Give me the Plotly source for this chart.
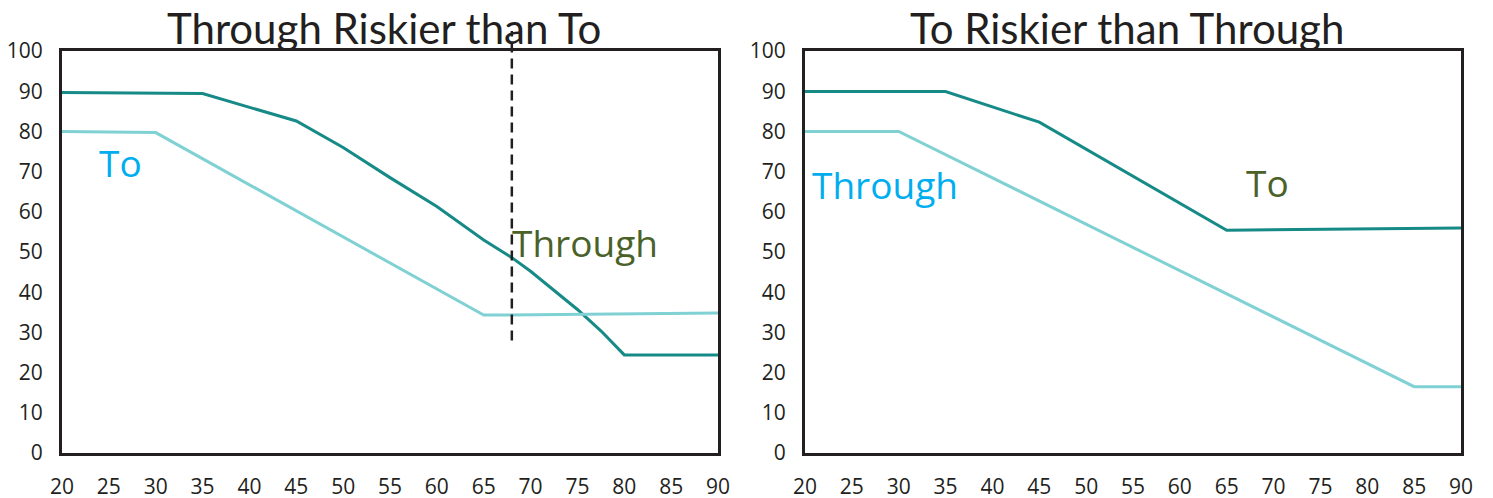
import plotly.graph_objects as go

# ---- data ----
ages = [20, 25, 30, 35, 40, 45, 50, 55, 60, 65, 70, 75, 80, 85, 90]

# Left panel: "Through Riskier than To"
left_through_x = [20, 35, 45, 50, 55, 60, 65, 68, 70, 75, 77.5, 80, 90]
left_through_y = [89.7, 89.4, 82.6, 76.0, 68.5, 61.3, 53.0, 48.6, 45.2, 35.7, 30.4, 24.4, 24.4]
left_to_x = [20, 30, 65, 90]
left_to_y = [80.0, 79.7, 34.3, 34.8]
split_age = 68
split_span = [28, 105]

# Right panel: "To Riskier than Through"
right_to_x = [20, 35, 45, 65, 90]
right_to_y = [89.9, 89.9, 82.3, 55.4, 56.0]
right_through_x = [20, 30, 85, 90]
right_through_y = [80.0, 80.0, 16.5, 16.5]

titles = ["Through Riskier than To", "To Riskier than Through"]
yticks = [0, 10, 20, 30, 40, 50, 60, 70, 80, 90, 100]

# label positions (data coords)
left_labels = [("To", 26.2, 72.2, "#00AEEF"), ("Through", 75.8, 52.3, "#4A6128")]
right_labels = [("Through", 28.5, 66.7, "#00AEEF"), ("To", 69.3, 67.2, "#4A6128")]

DARK = "#168A87"
LIGHT = "#80D1D4"
INK = "#231F20"

# page is shown with the default 8px body margin
PAGE_W, PAGE_H = 1493, 498
OFF = 8
W, H = PAGE_W - OFF, PAGE_H - OFF


def fx(px):
    return (px - OFF) / W


def fy(py):
    return 1 - (py - OFF) / H


fig = go.Figure()

fig.add_trace(go.Scatter(x=left_through_x, y=left_through_y, mode="lines",
                         line=dict(color=DARK, width=3), xaxis="x", yaxis="y",
                         showlegend=False, hoverinfo="skip"))
fig.add_trace(go.Scatter(x=left_to_x, y=left_to_y, mode="lines",
                         line=dict(color=LIGHT, width=3), xaxis="x", yaxis="y",
                         showlegend=False, hoverinfo="skip"))
fig.add_trace(go.Scatter(x=right_to_x, y=right_to_y, mode="lines",
                         line=dict(color=DARK, width=3), xaxis="x2", yaxis="y2",
                         showlegend=False, hoverinfo="skip"))
fig.add_trace(go.Scatter(x=right_through_x, y=right_through_y, mode="lines",
                         line=dict(color=LIGHT, width=3), xaxis="x2", yaxis="y2",
                         showlegend=False, hoverinfo="skip"))

ydom = [fy(453), fy(51)]
xdom1 = [fx(62), fx(718)]
xdom2 = [fx(805), fx(1461)]

tickfont = dict(family="Open Sans, sans-serif", size=21, color=INK)
common_x = dict(range=[20, 90], tickvals=ages, showgrid=False, zeroline=False,
                showline=True, mirror=True, linewidth=3, linecolor=INK,
                ticks="", tickfont=tickfont, ticklabelstandoff=13, fixedrange=True,
                automargin=False)
common_y = dict(range=[0, 100], tickvals=yticks, showgrid=False, zeroline=False,
                showline=True, mirror=True, linewidth=3, linecolor=INK,
                ticks="", tickfont=tickfont, ticklabelstandoff=12, fixedrange=True,
                automargin=False)

ymax = common_y["range"][1]
fig.add_shape(type="line", xref="x", yref="y domain",
              x0=split_age, x1=split_age,
              y0=split_span[0] / ymax, y1=split_span[1] / ymax,
              line=dict(color=INK, width=2.5, dash="10px,6px"), layer="above")

annotations = []
for title, dom in zip(titles, [xdom1, xdom2]):
    annotations.append(dict(text=title, xref="paper", yref="paper",
                            x=(dom[0] + dom[1]) / 2 - 6 / W, y=fy(28),
                            xanchor="center", yanchor="middle", showarrow=False,
                            font=dict(family="Lato, Open Sans, sans-serif", size=42, color=INK)))
for txt, x, y, c in left_labels:
    annotations.append(dict(text=txt, x=x, y=y, xref="x", yref="y", showarrow=False,
                            xanchor="center", yanchor="middle",
                            font=dict(family="Open Sans, sans-serif", size=37, color=c)))
for txt, x, y, c in right_labels:
    annotations.append(dict(text=txt, x=x, y=y, xref="x2", yref="y2", showarrow=False,
                            xanchor="center", yanchor="middle",
                            font=dict(family="Open Sans, sans-serif", size=37, color=c)))

fig.update_layout(
    width=W, height=H,
    margin=dict(l=0, r=0, t=0, b=0, pad=0),
    paper_bgcolor="white", plot_bgcolor="white",
    xaxis=dict(domain=xdom1, anchor="y", **common_x),
    yaxis=dict(domain=ydom, anchor="x", **common_y),
    xaxis2=dict(domain=xdom2, anchor="y2", **common_x),
    yaxis2=dict(domain=ydom, anchor="x2", **common_y),
    annotations=annotations,
)

fig.write_html("out.html", config=dict(responsive=False))
